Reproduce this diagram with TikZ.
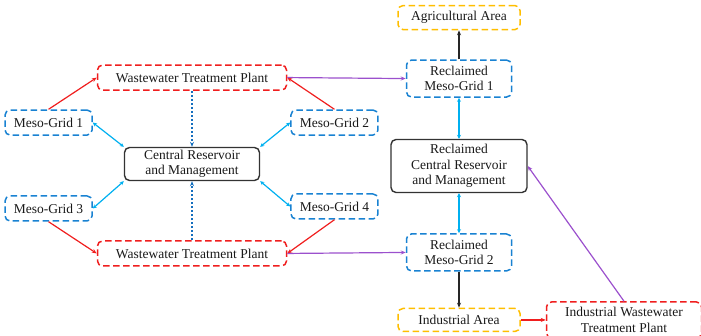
\documentclass[tikz,border=0pt]{standalone}
\usepackage{fontspec}
\setmainfont{Liberation Serif}
\usetikzlibrary{arrows.meta, positioning}

\definecolor{wwred}{RGB}{240,30,30}
\definecolor{gridblue}{RGB}{25,130,210}
\definecolor{linkcyan}{RGB}{0,176,240}
\definecolor{linkpurple}{RGB}{155,80,205}
\definecolor{areayellow}{RGB}{255,190,0}
\definecolor{dotblue}{RGB}{20,110,190}

\begin{document}
\begin{tikzpicture}[x=1pt, y=-1pt, font=\fontsize{13.5}{15.5}\selectfont, text=black!90]
		\tikzstyle{dashbox} = [rectangle, rounded corners=5pt, line width=1.5pt, dash pattern=on 6.5pt off 3.5pt, align=center, inner sep=0pt]
		\tikzstyle{WWTPBox} = [dashbox, draw=wwred, minimum width=189pt, minimum height=25pt]
		\tikzstyle{MesoBox} = [dashbox, draw=gridblue, minimum width=87pt, minimum height=25pt]
		\tikzstyle{CentralBox} = [rectangle, rounded corners=5pt, line width=1.4pt, draw=black!80, align=center, minimum width=135pt, minimum height=33pt, inner sep=0pt]
		\tikzstyle{AreaBox} = [dashbox, draw=areayellow, minimum width=122pt, minimum height=24pt]
		\tikzstyle{ReclaimedBox} = [dashbox, draw=gridblue, minimum width=105pt, minimum height=37pt]
		\tikzstyle{IndustrialBox} = [dashbox, draw=wwred, minimum width=155pt, minimum height=36pt]
		\tikzstyle{redarrow} = [wwred, line width=1.2pt, -{Stealth[length=5pt, width=4pt]}]
		\tikzstyle{cyanarrow} = [linkcyan, line width=1.2pt, {Stealth[length=4pt, width=4pt]}-{Stealth[length=4pt, width=4pt]}]
		\tikzstyle{purplearrow} = [linkpurple, line width=1.2pt, -{Stealth[length=5pt, width=4pt]}]
		\tikzstyle{blackarrow} = [black!85, line width=1.2pt, -{Stealth[length=5pt, width=4pt]}]
		\tikzstyle{dottedarrow} = [dotblue, line width=1.2pt, dash pattern=on 2.5pt off 1.5pt, -{Stealth[length=5pt, width=4pt]}]
		
		\useasboundingbox (0,0) rectangle (701,335);
		
		\node (central) [CentralBox] at (192,164) {Central Reservoir\\and Management};
		\node (wwtpTop) [WWTPBox, above = 56pt of central] {Wastewater Treatment Plant};
		\node (wwtpBot) [WWTPBox, below = 59pt of central] {Wastewater Treatment Plant};
		
		\node (mesoOne) [MesoBox, above left = 11pt and 31pt of central] {Meso-Grid 1};
		\node (mesoTwo) [MesoBox, above right = 11pt and 30pt of central] {Meso-Grid 2};
		\node (mesoThree) [MesoBox, below left = 14pt and 31pt of central] {Meso-Grid 3};
		\node (mesoFour) [MesoBox, below right = 12pt and 30pt of central] {Meso-Grid 4};
		
		\node (rcentral) [CentralBox, minimum width=136pt, minimum height=53pt] at (459,166) {Reclaimed\\Central Reservoir\\and Management};
		\node (rmgOne) [ReclaimedBox, above = 41pt of rcentral] {Reclaimed\\Meso-Grid 1};
		\node (agri) [AreaBox, above = 29pt of rmgOne] {Agricultural Area};
		\node (rmgTwo) [ReclaimedBox, below = 40pt of rcentral] {Reclaimed\\Meso-Grid 2};
		\node (indArea) [AreaBox, minimum height=23pt, below = 36pt of rmgTwo] {Industrial Area};
		\node (indWWTP) [IndustrialBox, right = 25pt of indArea] {Industrial Wastewater\\Treatment Plant};
		
		\draw[redarrow] (mesoOne.north) -- (wwtpTop.west);
		\draw[redarrow] (mesoTwo.north) -- (wwtpTop.east);
		\draw[redarrow] (mesoThree.south) -- (wwtpBot.west);
		\draw[redarrow] (mesoFour.south) -- (wwtpBot.east);
		
		\draw[cyanarrow] (mesoOne.east) -- (central.north west);
		\draw[cyanarrow] (mesoTwo.west) -- (central.north east);
		\draw[cyanarrow] (mesoThree.east) -- (central.south west);
		\draw[cyanarrow] (mesoFour.west) -- (central.south east);
		
		\draw[dottedarrow] (wwtpTop.south) -- (central.north);
		\draw[dottedarrow] (wwtpBot.north) -- (central.south);
		
		\draw[purplearrow] (wwtpTop.east) -- (rmgOne.west);
		\draw[purplearrow] (wwtpBot.east) -- (rmgTwo.west);
		\draw[purplearrow] (indWWTP.north) -- (rcentral.east);
		
		\draw[blackarrow] (rmgOne.north) -- (agri.south);
		\draw[blackarrow] (rmgTwo.south) -- (indArea.north);
		\draw[cyanarrow] (rmgOne.south) -- (rcentral.north);
		\draw[cyanarrow] (rcentral.south) -- (rmgTwo.north);
		\draw[redarrow] (indArea.east) -- (indWWTP.west);
		\end{tikzpicture}
\end{document}
